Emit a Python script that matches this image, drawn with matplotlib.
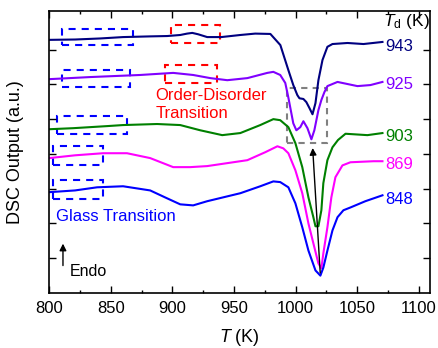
import numpy as np
import matplotlib.pyplot as plt
from matplotlib.patches import Rectangle

plt.rcParams['font.family'] = ['Liberation Sans', 'DejaVu Sans']
plt.rcParams['mathtext.fontset'] = 'custom'
plt.rcParams['mathtext.rm'] = 'Liberation Sans'
plt.rcParams['mathtext.it'] = 'Liberation Sans:italic'

# annealing temperature Td of each DSC trace
td_labels = ['943', '925', '903', '869', '848']
colors = ['#000080', '#8000ff', '#008000', '#ff00ff', '#0000ff']

t_943 = [800, 820.9, 841.2, 859.9, 881.9, 895.7, 906.3, 911.9, 916.1, 920.9, 928.2, 939.6,
         955.1, 967.2, 979.5, 987.6, 994.1, 998.1, 1001.4, 1003.1, 1006.3, 1008.7, 1011.2,
         1013.7, 1016.1, 1018.5, 1021.8, 1025.8, 1029.9, 1042.1, 1055.1, 1070.5]
dsc_943 = [7.28, 7.29, 7.32, 7.36, 7.38, 7.39, 7.42, 7.46, 7.48, 7.44, 7.36, 7.36,
           7.42, 7.46, 7.45, 7.13, 6.41, 5.98, 5.69, 5.60, 5.58, 5.49, 5.32,
           5.14, 5.46, 6.12, 6.70, 7.08, 7.16, 7.19, 7.16, 7.22]

t_925 = [800, 833.1, 873.7, 900.6, 916.8, 930.7, 944.5, 960.8, 977.0, 981.9, 987.5, 991.6,
         994.1, 998.1, 1000.6, 1003.8, 1006.3, 1009.6, 1012.8, 1015.2, 1018.5, 1020.9,
         1023.4, 1025.8, 1034.0, 1042.1, 1050.2, 1060.7, 1070.5]
dsc_925 = [6.15, 6.21, 6.27, 6.33, 6.27, 6.18, 6.12, 6.18, 6.33, 6.36, 6.27, 6.04,
           5.62, 4.88, 4.68, 4.77, 4.94, 4.74, 4.42, 4.68, 5.26, 5.55,
           5.78, 5.95, 6.07, 6.01, 5.95, 5.98, 6.07]

t_903 = [800, 819.3, 847.0, 859.9, 887.5, 906.3, 922.5, 940.4, 955.1, 971.3, 981.9, 987.5,
         994.1, 999.8, 1005.4, 1010.4, 1014.4, 1016.1, 1018.5, 1020.9, 1022.5, 1025.8,
         1029.9, 1034.4, 1040.5, 1058.3, 1070.5]
dsc_903 = [4.71, 4.74, 4.80, 4.83, 4.86, 4.83, 4.68, 4.54, 4.60, 4.83, 5.00, 4.97,
           4.77, 4.31, 3.62, 2.75, 2.18, 1.92, 1.92, 2.38, 3.16, 3.82,
           4.19, 4.40, 4.58, 4.54, 4.60]

t_869 = [800, 820.9, 843.7, 863.1, 881.9, 900.6, 914.4, 928.2, 960.8, 975.4, 985.2, 990.0,
         994.1, 999.8, 1005.4, 1010.4, 1014.4, 1018.5, 1020.9, 1022.5, 1025.8, 1029.0,
         1032.3, 1038.0, 1044.5, 1063.3, 1070.5]
dsc_869 = [3.88, 3.96, 4.02, 4.02, 3.88, 3.62, 3.62, 3.65, 3.82, 4.05, 4.22, 4.16,
           4.02, 3.53, 2.87, 2.00, 1.43, 0.85, 0.71, 1.14, 1.89, 2.75,
           3.33, 3.67, 3.76, 3.79, 3.79]

t_848 = [800, 820.9, 838.8, 859.9, 881.9, 894.0, 906.3, 916.8, 928.2, 955.1, 971.3, 981.9,
         987.5, 994.1, 999.8, 1005.4, 1010.4, 1016.1, 1020.1, 1022.5, 1025.8, 1029.9,
         1034.0, 1038.8, 1044.5, 1056.6, 1070.5]
dsc_848 = [2.90, 2.95, 3.04, 3.07, 2.95, 2.75, 2.55, 2.52, 2.64, 2.87, 3.07, 3.21,
           3.19, 3.04, 2.58, 1.89, 1.22, 0.65, 0.50, 0.73, 1.22, 1.80,
           2.18, 2.38, 2.46, 2.64, 2.81]

temps = [t_943, t_925, t_903, t_869, t_848]
signals = [dsc_943, dsc_925, dsc_903, dsc_869, dsc_848]
label_y = [7.08, 6.01, 4.51, 3.70, 2.69]

# dashed marker boxes: (T start, T end, low, high)
glass_boxes = [(810.3, 868.1, 7.13, 7.59), (810.3, 865.6, 5.92, 6.41),
               (806.3, 863.1, 4.57, 5.09), (803.0, 843.7, 3.67, 4.22),
               (803.0, 843.7, 2.69, 3.24)]
order_boxes = [(899.0, 938.8, 7.19, 7.71), (894.1, 936.3, 6.04, 6.56)]
peak_box = (993.3, 1025.8, 4.31, 5.89)

fig = plt.figure(figsize=(4.39, 3.48), dpi=100)
ax = fig.add_axes([0.1123, 0.158, 0.8672, 0.8104])

for t, s, c, lab, ly in zip(temps, signals, colors, td_labels, label_y):
    ax.plot(t, s, color=c, lw=1.5)
    ax.text(1072.9, ly, lab, color=c, fontsize=12, va='center', ha='left')

for x0, x1, y0, y1 in glass_boxes:
    ax.add_patch(Rectangle((x0, y0), x1 - x0, y1 - y0, fill=False, ec='#0000ff',
                           lw=1.5, linestyle=(0, (3.4, 2.9))))
for x0, x1, y0, y1 in order_boxes:
    ax.add_patch(Rectangle((x0, y0), x1 - x0, y1 - y0, fill=False, ec='#ff0000',
                           lw=1.5, linestyle=(0, (3.4, 2.9))))
x0, x1, y0, y1 = peak_box
ax.add_patch(Rectangle((x0, y0), x1 - x0, y1 - y0, fill=False, ec='#808080',
                       lw=1.5, linestyle=(0, (3, 2.5))))

ax.annotate('', xy=(1013.7, 4.25), xytext=(1020.1, 0.5),
            arrowprops=dict(arrowstyle='-|>', color='black', lw=1, mutation_scale=10))
ax.annotate('', xy=(811.1, 1.5), xytext=(811.1, 0.71),
            arrowprops=dict(arrowstyle='-|>', color='black', lw=1, mutation_scale=10))
ax.text(816.8, 0.62, 'Endo', fontsize=11.5, va='center', ha='left')
ax.text(805.5, 2.2, 'Glass Transition', color='#0000ff', fontsize=12, va='center')
ax.text(886.0, 5.42, 'Order-Disorder\nTransition', color='#ff0000', fontsize=12,
        va='center', ha='left', linespacing=1.3)
ax.text(1071.3, 7.8, r'$T_{\rm d}$ (K)', fontsize=12.5, va='center', ha='left')

ax.set_xlim(800, 1109.1)
ax.set_ylim(0, 8.11)
ax.set_xticks(np.arange(800, 1101, 50))
ax.set_xticks(np.arange(825, 1100, 50), minor=True)
ax.set_yticks(np.arange(1, 8))
ax.set_yticklabels([])
ax.tick_params(direction='in', top=True, right=True, labelsize=12, width=1,
               length=5, pad=6)
ax.tick_params(which='minor', direction='in', top=True, width=1, length=2.5)
for sp in ax.spines.values():
    sp.set_linewidth(1.2)

ax.set_xlabel(r'$T$ (K)', fontsize=13, labelpad=8)
ax.set_ylabel('DSC Output (a.u.)', fontsize=13, labelpad=12)

fig.savefig('out.png', dpi=100)
